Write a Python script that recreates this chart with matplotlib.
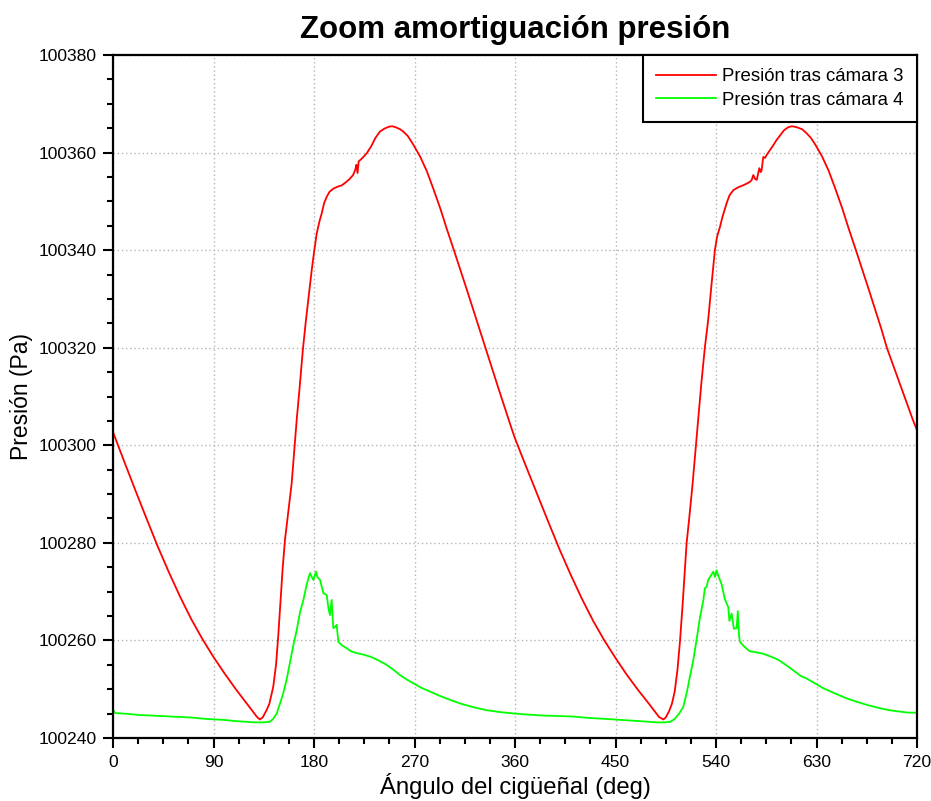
import matplotlib
matplotlib.use("Agg")
import matplotlib.pyplot as plt
from matplotlib.ticker import MultipleLocator

plt.rcParams['font.family'] = ['Liberation Sans', 'DejaVu Sans']

title = "Zoom amortiguación presión"
xlabel = "Ángulo del cigüeñal (deg)"
ylabel = "Presión (Pa)"
label_red = "Presión tras cámara 3"
label_green = "Presión tras cámara 4"

red_angle = [0, 10, 20, 30, 40, 50, 60, 70, 80, 90, 100, 110, 120, 126, 129, 131.5, 134,
             137.5, 140, 143.5, 146, 148, 150, 152, 154, 156, 158, 160, 162, 164.5, 167, 170,
             172.8, 175, 178, 180, 182.4, 185, 187, 189, 191.3, 194, 197.3, 201, 205, 209,
             212, 215, 217, 218, 219, 220, 223, 227, 231, 235, 239, 243, 247, 250, 253, 257,
             260, 264, 269, 275, 281, 287, 293, 299, 305, 311, 317, 323, 328, 333, 339, 345,
             351, 357,
             360, 370, 380, 390, 400, 410, 420, 430, 440, 450, 460, 470, 480, 486, 489, 492.8,
             495, 498, 500.5, 503, 505.5, 507.8, 510, 512, 513.7, 516, 519, 522, 524.5, 527,
             530, 533, 536, 539, 541, 543.6, 546, 549.5, 552, 555.5, 560, 564.4, 568, 570.4,
             572, 573.4, 575, 576.5, 578.8, 580, 580.8, 582.3, 584, 585.3, 588, 591.3, 594,
             597.3, 601, 604.7, 608, 612.2, 617, 621, 625, 629, 635, 641, 647, 653, 659, 665,
             671, 677, 683, 688, 693, 699, 705, 711, 716, 720]
red_pa = [100302.7, 100296.7, 100290.8, 100285.0, 100279.3, 100274.0, 100269.0, 100264.4,
          100260.3, 100256.6, 100253.2, 100250.0, 100247.0, 100245.2, 100244.3, 100243.8,
          100244.2, 100245.7, 100247.0, 100250.5, 100255.0, 100261.0, 100268.0, 100275.0,
          100280.6, 100284.5, 100288.5, 100292.2, 100298.0, 100305.2, 100311.5, 100319.5,
          100325.7, 100330.0, 100336.0, 100339.5, 100343.4, 100346.0, 100347.6, 100349.6,
          100350.9, 100352.0, 100352.6, 100353.0, 100353.3, 100354.0, 100354.6, 100355.4,
          100356.5, 100357.5, 100355.8, 100358.2, 100358.8, 100359.8, 100361.2, 100363.0,
          100364.3, 100364.9, 100365.3, 100365.4, 100365.2, 100364.8, 100364.3, 100363.4,
          100361.6, 100359.2, 100356.2, 100352.5, 100348.6, 100344.3, 100340.2, 100336.0,
          100331.8, 100327.5, 100323.9, 100320.3, 100316.0, 100311.8, 100307.6, 100303.4,
          100301.4, 100295.6, 100289.9, 100284.2, 100278.6, 100273.4, 100268.5, 100264.0,
          100260.0, 100256.4, 100253.0, 100249.9, 100247.0, 100245.2, 100244.3, 100243.8,
          100244.2, 100245.5, 100247.0, 100249.5, 100254.0, 100260.0, 100267.0, 100274.0,
          100280.0, 100285.0, 100292.0, 100300.0, 100306.5, 100313.0, 100320.0, 100325.7,
          100333.0, 100340.0, 100342.8, 100344.8, 100347.0, 100349.6, 100351.2, 100352.3,
          100352.9, 100353.3, 100353.7, 100354.0, 100354.4, 100355.4, 100354.6, 100354.4,
          100356.8, 100356.0, 100356.3, 100359.1, 100358.9, 100359.5, 100360.4, 100361.5,
          100362.5, 100363.5, 100364.6, 100365.2, 100365.4, 100365.2, 100364.8, 100364.0,
          100363.0, 100361.6, 100359.2, 100356.2, 100352.5, 100348.6, 100344.3, 100340.2,
          100336.0, 100331.8, 100327.5, 100323.9, 100320.0, 100316.2, 100312.4, 100308.6,
          100305.4, 100303.1]

green_angle = [0, 1, 2, 10, 20, 24, 35, 52, 70, 84, 100, 108, 127, 134, 140, 143, 146.6, 149.6,
               152.5, 155.5, 158.5, 161.5, 164.5, 167.5, 170.5, 173.5, 176.4, 178, 179.4,
               181.8, 183, 185.4, 188.4, 191.4, 193, 194.3, 195.8, 197.3, 199, 200.3, 201.8,
               205, 209.2, 213, 218.2, 224, 230.1, 237, 245, 251, 257, 263, 269, 276, 284,
               293, 302, 312, 323, 334.6, 347,
               360, 372, 385.4, 400, 412, 427, 442, 455, 469, 487, 494, 498.8, 503, 507,
               510.7, 514, 517, 519.7, 522.5, 525.5, 528.7, 530, 531.6, 533, 537.6, 539,
               540.5, 542, 545, 548, 551, 552, 554, 556, 558.5, 559.5, 560.6, 561.5, 565,
               570, 575, 582, 590, 596, 603, 609, 616, 621, 628.7, 636, 645, 655, 665, 675,
               685, 695, 705, 712, 720]
green_pa = [100245.5, 100245.5, 100245.1, 100245.0, 100244.8, 100244.7, 100244.6, 100244.4,
            100244.2, 100243.9, 100243.7, 100243.5, 100243.2, 100243.2, 100243.3, 100243.8,
            100245.0, 100247.1, 100249.2, 100252.0, 100255.5, 100259.0, 100262.1, 100265.8,
            100268.3, 100271.5, 100273.8, 100273.0, 100272.4, 100274.1, 100273.0, 100272.4,
            100269.7, 100269.3, 100266.5, 100265.2, 100268.3, 100262.5, 100262.8, 100263.2,
            100259.7, 100259.0, 100258.4, 100257.8, 100257.4, 100257.1, 100256.7, 100256.0,
            100255.0, 100254.0, 100252.9, 100252.0, 100251.2, 100250.3, 100249.5, 100248.6,
            100247.8, 100247.0, 100246.3, 100245.7, 100245.3,
            100245.0, 100244.8, 100244.6, 100244.5, 100244.4, 100244.1, 100243.9, 100243.7,
            100243.5, 100243.2, 100243.2, 100243.3, 100243.9, 100245.0, 100246.4, 100249.5,
            100253.0, 100256.0, 100260.0, 100264.5, 100268.3, 100270.7, 100271.0, 100272.4,
            100274.1, 100273.0, 100274.4, 100273.3, 100271.5, 100268.4, 100266.8, 100264.0,
            100265.5, 100262.4, 100262.5, 100266.0, 100261.0, 100259.7, 100258.8, 100257.8,
            100257.6, 100257.3, 100256.6, 100256.0, 100254.9, 100253.9, 100252.7, 100252.2,
            100251.2, 100250.2, 100249.3, 100248.3, 100247.5, 100246.8, 100246.2, 100245.7,
            100245.4, 100245.2, 100245.2]

x_ticks = [0, 90, 180, 270, 360, 450, 540, 630, 720]
y_ticks = [100240, 100260, 100280, 100300, 100320, 100340, 100360, 100380]

fig = plt.figure(figsize=(9.31, 8.01), dpi=100)
ax = fig.add_axes([113 / 931, 1 - 738 / 801, (917 - 113) / 931, (738 - 55) / 801])

ax.plot(red_angle, red_pa, color='#ff0000', lw=1.3, label=label_red)
ax.plot(green_angle, green_pa, color='#00ff00', lw=1.3, label=label_green)

ax.set_xlim(0, 720)
ax.set_ylim(100240, 100380)
ax.set_xticks(x_ticks)
ax.set_yticks(y_ticks)
ax.xaxis.set_minor_locator(MultipleLocator(22.5))
ax.yaxis.set_minor_locator(MultipleLocator(5))
ax.ticklabel_format(axis='y', useOffset=False, style='plain')
ax.tick_params(axis='both', which='major', direction='out', length=7, width=1.5,
               labelsize=12.6, top=False, right=False, pad=5)
ax.tick_params(axis='both', which='minor', direction='out', length=4, width=1.5,
               top=False, right=False)
for s in ax.spines.values():
    s.set_linewidth(1.6)

ax.grid(True, which='major', color='#b4b4b4', linestyle=(0, (1, 2)), linewidth=1.0)
ax.set_axisbelow(True)

ax.set_title(title, fontsize=22.5, fontweight='bold', pad=12)
ax.set_xlabel(xlabel, fontsize=17.2, labelpad=2.5)
ax.set_ylabel(ylabel, fontsize=16.5, labelpad=4)

leg = ax.legend(loc='upper right', bbox_to_anchor=(1, 1), borderaxespad=0, fontsize=13.4,
                handlelength=3.2, fancybox=False, edgecolor='black', framealpha=1,
                borderpad=0.72, labelspacing=0.35, handletextpad=0.35)
leg.get_frame().set_linewidth(1.5)

fig.savefig("out.png", dpi=100)
